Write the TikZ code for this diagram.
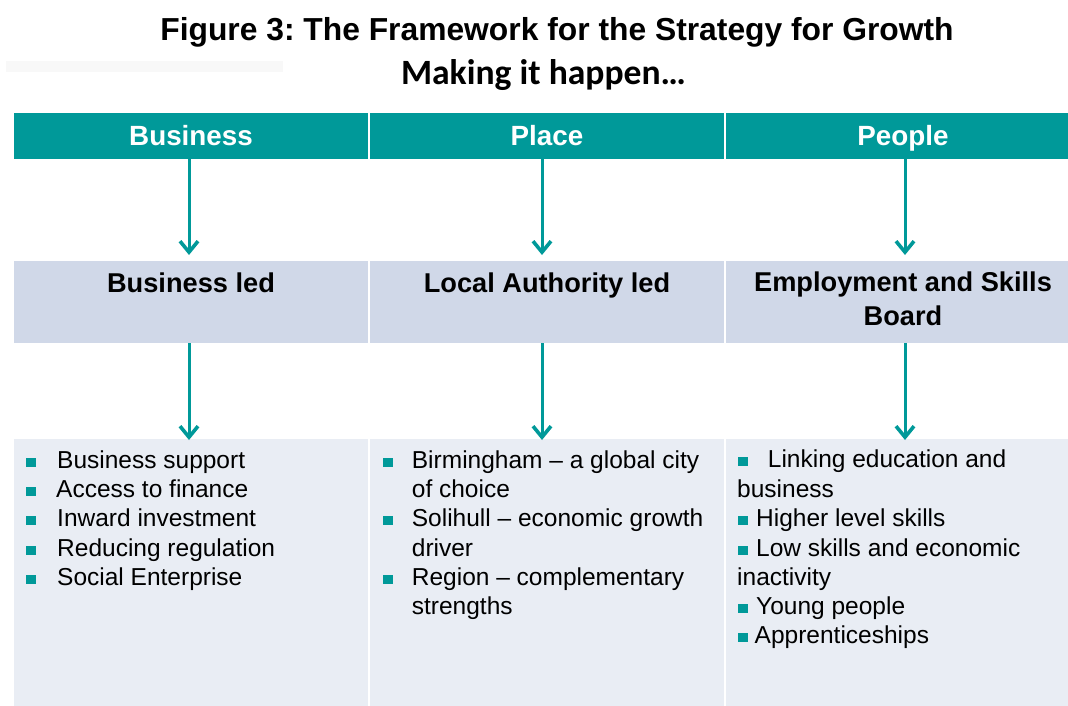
\documentclass[tikz,border=0pt]{standalone}
\usepackage{fontspec}
\setmainfont{Liberation Sans}
\newfontfamily\carlito{Carlito}
\usetikzlibrary{arrows.meta}
\definecolor{tealhead}{RGB}{0,153,153}
\definecolor{midrow}{RGB}{208,216,232}
\definecolor{lowrow}{RGB}{233,237,244}
\definecolor{faintband}{RGB}{248,248,248}
\newcommand\myblt[2]{\fill[tealhead] (#1,#2-10.3) rectangle ++(9.5,9);}
\frenchspacing
\begin{document}
\begin{tikzpicture}[x=1pt,y=-1pt,
  cell/.style={draw=none,inner sep=0pt,outer sep=0pt,anchor=north west},
  head/.style={cell,fill=tealhead,minimum height=46pt},
  mid/.style={cell,fill=midrow,minimum height=82pt},
  low/.style={cell,fill=lowrow,minimum height=267pt},
  headtxt/.style={inner sep=0pt,anchor=base,text=white,font=\fontsize{27.8}{31}\selectfont\bfseries},
  midtxt/.style={inner sep=0pt,anchor=base,text=black,align=center,font=\fontsize{27.2}{34}\selectfont\bfseries},
  item/.style={inner sep=0pt,anchor=base west,text=black,font=\fontsize{24.5}{29}\selectfont},
  arr/.style={draw=tealhead,line width=3pt,-{Straight Barb[length=11pt,width=18pt,line width=3.6pt]}}
]
\useasboundingbox (0,0) rectangle (1068,706);
\fill[faintband] (6,61) rectangle (283,72);
% titles
\node[inner sep=0pt,anchor=base,font=\fontsize{31.8}{36}\selectfont\bfseries] (title) at (557,40.7)
  {Figure 3: The Framework for the Strategy for Growth};
\node[inner sep=0pt,anchor=base,font=\fontsize{35.6}{40}\selectfont\carlito\bfseries] (sub) at (543.5,84.3)
  {Making it happen…};
% header row
\node[head,minimum width=354pt] (h1) at (14,113) {};
\node[head,minimum width=354pt] (h2) at (370,113) {};
\node[head,minimum width=342pt] (h3) at (726,113) {};
\node[headtxt] (ht1) at (191,145.3) {Business};
\node[headtxt] (ht2) at (547,145.3) {Place};
\node[headtxt] (ht3) at (903,145.3) {People};
% middle row
\node[mid,minimum width=354pt] (m1) at (14,261) {};
\node[mid,minimum width=354pt] (m2) at (370,261) {};
\node[mid,minimum width=342pt] (m3) at (726,261) {};
\node[midtxt] (mt1) at (191,292.3) {Business led};
\node[midtxt] (mt2) at (547,292.3) {Local Authority led};
\node[midtxt,anchor=north] (mt3) at (903,272) {Employment and Skills\\Board};
% low row
\node[low,minimum width=354pt] (l1) at (14,439) {};
\node[low,minimum width=354pt] (l2) at (370,439) {};
\node[low,minimum width=342pt] (l3) at (726,439) {};
% arrows
\draw[arr,shorten >=6pt] ([xshift=-2pt]h1.south) -- ([xshift=-2pt]m1.north);
\draw[arr,shorten >=6pt] ([xshift=-5pt]h2.south) -- ([xshift=-5pt]m2.north);
\draw[arr,shorten >=6pt] ([xshift=8pt]h3.south) -- ([xshift=8pt]m3.north);
\draw[arr,shorten >=-1pt] ([xshift=-2pt]m1.south) -- ([xshift=-2pt]l1.north);
\draw[arr,shorten >=-1pt] ([xshift=-5pt]m2.south) -- ([xshift=-5pt]l2.north);
\draw[arr,shorten >=-1pt] ([xshift=8pt]m3.south) -- ([xshift=8pt]l3.north);
% column 1 list
\myblt{26}{468}\node[item] (a1) at (57,468) {Business support};
\myblt{26}{497.3}\node[item] (a2) at (56,497.3) {Access to finance};
\myblt{26}{526.6}\node[item] (a3) at (57,526.6) {Inward investment};
\myblt{26}{556}\node[item] (a4) at (57,556) {Reducing regulation};
\myblt{26}{585.3}\node[item] (a5) at (57,585.3) {Social Enterprise};
% column 2 list
\myblt{383}{468}\node[item] (b1) at (411.7,468) {Birmingham – a global city};
\node[item] (b2) at (411.7,497.3) {of choice};
\myblt{383}{526.6}\node[item] (b3) at (411.7,526.6) {Solihull – economic growth};
\node[item] (b4) at (411.7,556) {driver};
\myblt{383}{585.3}\node[item] (b5) at (411.7,585.3) {Region – complementary};
\node[item] (b6) at (411.7,614.6) {strengths};
% column 3 list
\myblt{738}{467.5}\node[item] (c1) at (767.7,467.5) {Linking education and};
\node[item] (c2) at (737,497) {business};
\myblt{738}{526.6}\node[item] (c3) at (756,526.6) {Higher level skills};
\myblt{738}{556}\node[item] (c4) at (756,556) {Low skills and economic};
\node[item] (c5) at (737,585.3) {inactivity};
\myblt{738}{614.6}\node[item] (c6) at (756,614.6) {Young people};
\myblt{738}{643.5}\node[item] (c7) at (754.5,643.5) {Apprenticeships};
\end{tikzpicture}
\end{document}
